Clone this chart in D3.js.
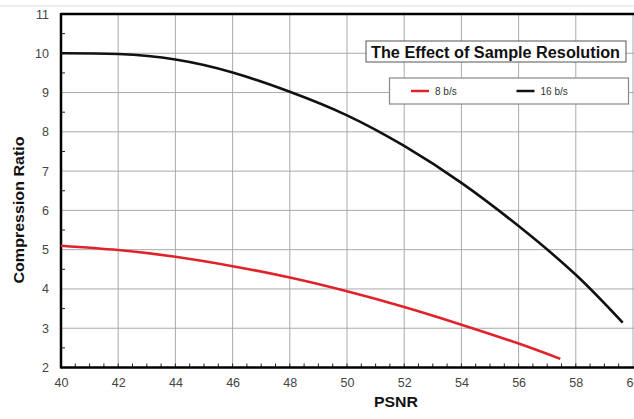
<!DOCTYPE html>
<html>
<head>
<meta charset="utf-8">
<script src="https://cdn.jsdelivr.net/npm/d3@7"></script>
<style>
  body { margin: 0; background: #fff; }
  svg { display: block; font-family: "Liberation Sans", Arial, sans-serif; }
  .tick text { fill: #444; font-size: 12.5px; }
</style>
</head>
<body>
<div id="chart"></div>
<script>
// PSNR vs compression ratio
var psnr16 = [40, 42, 44, 46, 48, 50, 52, 54, 56, 58, 59.64];
var ratio16 = [10.0, 9.98, 9.84, 9.51, 9.02, 8.42, 7.64, 6.70, 5.60, 4.36, 3.14];
var psnr8 = [40, 42, 44, 46, 48, 50, 52, 54, 56, 57.46];
var ratio8 = [5.10, 4.99, 4.82, 4.58, 4.29, 3.94, 3.54, 3.09, 2.61, 2.22];
var seriesNames = ["8 b/s", "16 b/s"];
var seriesColors = ["#e0232b", "#111"];
var xTicks = [40, 42, 44, 46, 48, 50, 52, 54, 56, 58, 60];
var yTicks = [2, 3, 4, 5, 6, 7, 8, 9, 10, 11];

var width = 634, height = 419;
var margin = { top: 14, right: 1, bottom: 52, left: 61 };

var svg = d3.select("#chart").append("svg")
    .attr("width", width)
    .attr("height", height);

var x = d3.scaleLinear().domain([40, 60]).range([margin.left, width - margin.right]);
var y = d3.scaleLinear().domain([2, 11]).range([height - margin.bottom + 0.5, margin.top]);

// thin page edge line
svg.append("line")
    .attr("x1", 0).attr("x2", width)
    .attr("y1", 6).attr("y2", 6)
    .attr("stroke", "#ddd").attr("stroke-width", 1);

// grid
svg.append("g")
    .selectAll("line")
    .data(xTicks.slice(1))
    .join("line")
    .attr("x1", d => x(d)).attr("x2", d => x(d))
    .attr("y1", y(2)).attr("y2", y(11))
    .attr("stroke", "#aaa").attr("stroke-width", 1);
svg.append("g")
    .selectAll("line")
    .data(yTicks.slice(1, -1))
    .join("line")
    .attr("x1", x(40)).attr("x2", width)
    .attr("y1", d => y(d)).attr("y2", d => y(d))
    .attr("stroke", "#aaa").attr("stroke-width", 1);

// minor ticks (inside the plot)
var xMinor = d3.range(40.5, 60, 0.5);
svg.append("g")
    .selectAll("line")
    .data(xMinor)
    .join("line")
    .attr("x1", d => x(d)).attr("x2", d => x(d))
    .attr("y1", y(2)).attr("y2", y(2) - 4)
    .attr("stroke", "#222").attr("stroke-width", 1);
var yMinor = d3.range(2.5, 11, 1);
svg.append("g")
    .selectAll("line")
    .data(yMinor)
    .join("line")
    .attr("x1", x(40)).attr("x2", x(40) + 4)
    .attr("y1", d => y(d)).attr("y2", d => y(d))
    .attr("stroke", "#222").attr("stroke-width", 1);

// axes
var xAxis = d3.axisBottom(x).tickValues(xTicks).tickSize(0).tickPadding(11);
var yAxis = d3.axisLeft(y).tickValues(yTicks).tickSize(0).tickPadding(12);

svg.append("g")
    .attr("transform", "translate(0," + y(2) + ")")
    .call(xAxis)
    .call(g => g.select(".domain").remove());
svg.append("g")
    .attr("transform", "translate(" + x(40) + ",0)")
    .call(yAxis)
    .call(g => g.select(".domain").remove());

// frame lines
svg.append("line")
    .attr("x1", x(40)).attr("x2", width)
    .attr("y1", y(2)).attr("y2", y(2))
    .attr("stroke", "#000").attr("stroke-width", 2.5);
svg.append("line")
    .attr("x1", x(40)).attr("x2", width)
    .attr("y1", y(11)).attr("y2", y(11))
    .attr("stroke", "#000").attr("stroke-width", 2.5);
svg.append("line")
    .attr("x1", x(40)).attr("x2", x(40))
    .attr("y1", y(11) - 1).attr("y2", y(2) + 1)
    .attr("stroke", "#000").attr("stroke-width", 2.5);

// curves
var line = d3.line()
    .x(d => x(d[0]))
    .y(d => y(d[1]))
    .curve(d3.curveNatural);

var series = [d3.zip(psnr8, ratio8), d3.zip(psnr16, ratio16)];
svg.append("g")
    .selectAll("path")
    .data(series)
    .join("path")
    .attr("d", line)
    .attr("fill", "none")
    .attr("stroke", (d, i) => seriesColors[i])
    .attr("stroke-width", 2.6);

// title box
var title = svg.append("g");
title.append("rect")
    .attr("x", 366).attr("y", 41)
    .attr("width", 260).attr("height", 21)
    .attr("fill", "#fff").attr("stroke", "#555").attr("stroke-width", 1);
title.append("text")
    .attr("x", 371).attr("y", 57.5)
    .attr("font-size", "16px")
    .attr("font-weight", "bold")
    .attr("fill", "#111")
    .attr("textLength", 249)
    .attr("lengthAdjust", "spacingAndGlyphs")
    .text("The Effect of Sample Resolution");

// legend box
var legend = svg.append("g");
legend.append("rect")
    .attr("x", 389.5).attr("y", 78)
    .attr("width", 239).attr("height", 26)
    .attr("fill", "#fff").attr("stroke", "#888").attr("stroke-width", 1.2);
var items = legend.selectAll("g")
    .data(seriesNames)
    .join("g")
    .attr("transform", (d, i) => "translate(" + (411 + i * 105.5) + ",91)");
items.append("line")
    .attr("x1", 0).attr("x2", 18)
    .attr("stroke", (d, i) => seriesColors[i])
    .attr("stroke-width", 2.5);
items.append("text")
    .attr("x", 24).attr("y", 3.5)
    .attr("font-size", "10px")
    .attr("fill", "#333")
    .text(d => d);

// axis titles
svg.append("text")
    .attr("x", 374).attr("y", 407)
    .attr("font-size", "14px")
    .attr("font-weight", "bold")
    .attr("fill", "#111")
    .attr("textLength", 44)
    .attr("lengthAdjust", "spacingAndGlyphs")
    .text("PSNR");
svg.append("text")
    .attr("transform", "translate(23.5,283.5) rotate(-90)")
    .attr("font-size", "14.5px")
    .attr("font-weight", "bold")
    .attr("fill", "#111")
    .attr("textLength", 147)
    .attr("lengthAdjust", "spacingAndGlyphs")
    .text("Compression Ratio");
</script>
</body>
</html>
